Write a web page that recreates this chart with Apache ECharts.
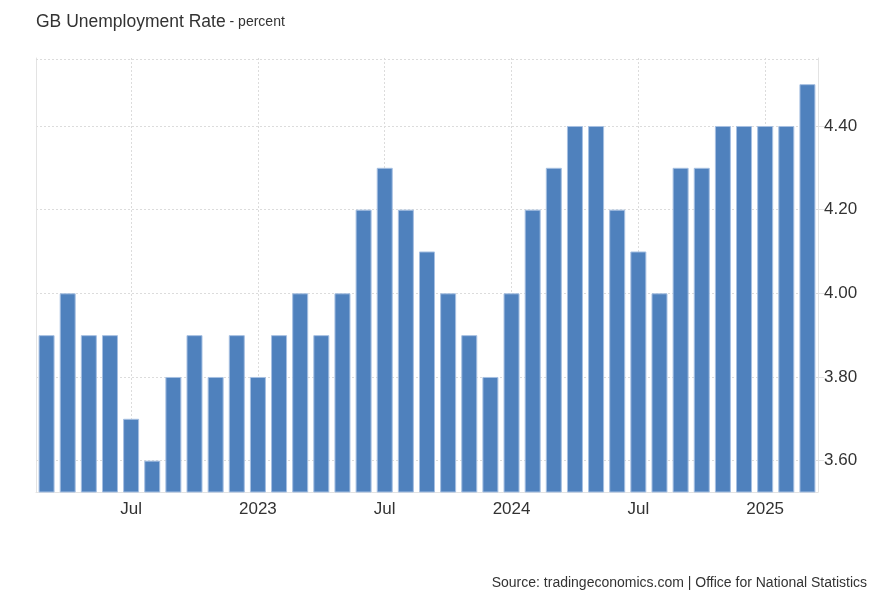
<!DOCTYPE html>
<html>
<head>
<meta charset="utf-8">
<script src="https://cdn.jsdelivr.net/npm/echarts@6/dist/echarts.min.js"></script>
<style>html,body{margin:0;padding:0;background:#fff}#c{width:882px;height:603px}</style>
</head>
<body>
<div id="c"></div>
<script>
var categories = ['Mar 2022','Apr 2022','May 2022','Jun 2022','Jul 2022','Aug 2022','Sep 2022','Oct 2022','Nov 2022','Dec 2022',
  'Jan 2023','Feb 2023','Mar 2023','Apr 2023','May 2023','Jun 2023','Jul 2023','Aug 2023','Sep 2023','Oct 2023','Nov 2023','Dec 2023',
  'Jan 2024','Feb 2024','Mar 2024','Apr 2024','May 2024','Jun 2024','Jul 2024','Aug 2024','Sep 2024','Oct 2024','Nov 2024','Dec 2024',
  'Jan 2025','Feb 2025','Mar 2025'];
var values = [3.9,4.0,3.9,3.9,3.7,3.6,3.8,3.9,3.8,3.9,
  3.8,3.9,4.0,3.9,4.0,4.2,4.3,4.2,4.1,4.0,3.9,3.8,
  4.0,4.2,4.3,4.4,4.4,4.2,4.1,4.0,4.3,4.3,4.4,4.4,
  4.4,4.4,4.5];
var xTickLabels = {'Jul 2022':'Jul','Jan 2023':'2023','Jul 2023':'Jul','Jan 2024':'2024','Jul 2024':'Jul','Jan 2025':'2025'};
var yTicks = [3.6,3.8,4.0,4.2,4.4];

var FONT = 'Liberation Sans, Arial, sans-serif';
var chart = echarts.init(document.getElementById('c'), null, {renderer:'canvas'});
var gridLineStyle = {color:'#dcdcdc', type:[2,2], width:1};
chart.setOption({
  animation:false,
  title:{
    text:'{a|GB Unemployment Rate}{b| - percent}',
    left:36, top:13, padding:0,
    textStyle:{rich:{
      a:{fontFamily:FONT, fontSize:17.5, fontWeight:'normal', color:'#333'},
      b:{fontFamily:FONT, fontSize:14, fontWeight:'normal', color:'#333'}
    }}
  },
  graphic:[{
    type:'text', right:15, top:576,
    style:{text:'Source: tradingeconomics.com | Office for National Statistics',
      font:'14px Liberation Sans, Arial, sans-serif', fill:'#333'}
  }],
  grid:{left:36, right:64, top:58, bottom:111, containLabel:false},
  xAxis:{
    type:'category', data:categories,
    axisLine:{show:true, lineStyle:{color:'#e3e3e3', width:1}},
    axisTick:{show:false},
    splitLine:{show:false},
    axisLabel:{
      interval:function(i, v){ return xTickLabels[v] !== undefined; },
      formatter:function(v){ return xTickLabels[v] || ''; },
      color:'#333', fontSize:17, margin:9,
      fontFamily:FONT
    }
  },
  yAxis:[{
    type:'value', position:'right', min:3.525, max:4.5625,
    axisLine:{show:true, lineStyle:{color:'#e3e3e3', width:1}},
    axisTick:{show:true, length:6, lineStyle:{color:'#e3e3e3'}, customValues:yTicks},
    splitLine:{show:true, lineStyle:gridLineStyle},
    axisLabel:{customValues:yTicks, color:'#333', fontSize:17, margin:6,
      fontFamily:FONT,
      formatter:function(v){ return v.toFixed(2); }}
  },{
    type:'value', position:'left', min:3.525, max:4.5625,
    axisLine:{show:true, lineStyle:{color:'#e3e3e3', width:1}},
    axisTick:{show:false}, axisLabel:{show:false}, splitLine:{show:false}
  }],
  series:[
    {
      type:'line', data:[], z:1, silent:true, symbol:'none',
      markLine:{
        silent:true, symbol:'none', label:{show:false}, z:1,
        lineStyle:gridLineStyle,
        data:Object.keys(xTickLabels).map(function(k){ return {xAxis:k}; })
          .concat([{yAxis:4.5625}])
      }
    },
    {
      type:'bar', data:values, barWidth:16, z:2,
      itemStyle:{color:'#4f81bd', borderColor:'#a7c0e2', borderWidth:1}
    }
  ]
});
</script>
</body>
</html>
